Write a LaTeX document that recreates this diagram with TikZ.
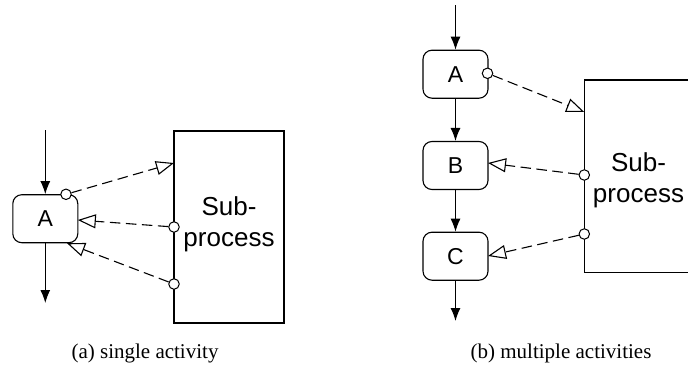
\documentclass[tikz,border=0pt]{standalone}
\usepackage{fontspec}
\setmainfont{Liberation Serif}
\newfontfamily\arialfont{Liberation Sans}
\usetikzlibrary{arrows.meta}

\tikzset{
  activity/.style={draw, line width=1.1pt, rounded corners=9pt,
    minimum width=65pt, minimum height=48pt, inner sep=0pt,
    font=\arialfont\fontsize{23}{26}\selectfont},
  subbox/.style={draw, line width=1.1pt},
  subtext/.style={align=center, inner sep=0pt,
    font=\arialfont\fontsize{26}{31}\selectfont},
  port/.style={circle, draw, fill=white, line width=1pt,
    minimum size=10.5pt, inner sep=0pt},
  flow/.style={line width=1.1pt, -{Latex[length=13pt, width=10pt]}},
  msg/.style={line width=1.1pt, dash pattern=on 10.5pt off 5.5pt,
    -{Triangle[open, length=18pt, width=14pt, line width=1.1pt]}},
  caption/.style={font=\fontsize{21}{24}\selectfont, inner sep=0pt}
}

\begin{document}
\begin{tikzpicture}[x=1pt, y=-1pt]
  \useasboundingbox (0,0) rectangle (688,367);

  % ---------- (a) single activity ----------
  \node[activity] (a1) at (45.3,218.7) {A};
  \coordinate (a1in)  at (45.3,130);
  \coordinate (a1out) at (45.3,303);
  \draw[flow] (a1in) -- (a1.north);
  \draw[flow] (a1.south) -- (a1out);

  \draw[subbox] (174,131) rectangle (284,323);
  \node[subtext] (s1) at (229,224) {Sub-\\process};

  \coordinate (s1t) at (174,163);
  \coordinate (a1r) at (77.8,220);
  \coordinate (a1b) at (67,243.2);
  \node[port] (p11) at (66,194.3) {};
  \node[port] (p12) at (174,227) {};
  \node[port] (p13) at (174,284) {};
  \draw[msg] (p11) -- (s1t);
  \draw[msg] (p12) -- (a1r);
  \draw[msg] (p13) -- (a1b);

  \node[caption] (c1) at (145,353) {(a) single activity};

  % ---------- (b) multiple activities ----------
  \node[activity] (ba) at (455.5,74.2)  {A};
  \node[activity] (bb) at (455.5,165.5) {B};
  \node[activity] (bc) at (455.5,256.2) {C};
  \coordinate (bin)  at (455.5,5);
  \coordinate (bout) at (455.5,321);
  \draw[flow] (bin) -- (ba.north);
  \draw[flow] (ba.south) -- (bb.north);
  \draw[flow] (bb.south) -- (bc.north);
  \draw[flow] (bc.south) -- (bout);

  \draw[subbox] (584.3,80) rectangle (693,272.3);
  \node[subtext] (s2) at (638.5,180) {Sub-\\process};

  \coordinate (s2t) at (584.3,112);
  \coordinate (bbr) at (488,163);
  \coordinate (bcr) at (488,256);
  \node[port] (p21) at (487.5,73.3) {};
  \node[port] (p22) at (584.3,175) {};
  \node[port] (p23) at (584.3,234) {};
  \draw[msg] (p21) -- (s2t);
  \draw[msg] (p22) -- (bbr);
  \draw[msg] (p23) -- (bcr);

  \node[caption] (c2) at (561,353) {(b) multiple activities};
\end{tikzpicture}
\end{document}
